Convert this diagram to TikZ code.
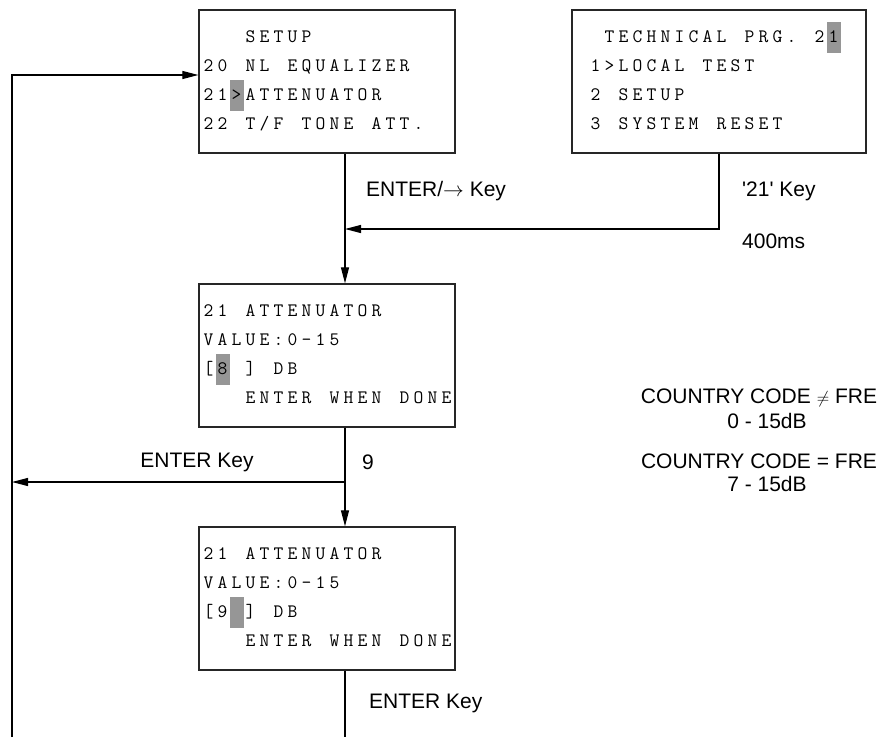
\documentclass[tikz,border=0pt]{standalone}
\usepackage{fontspec}
\setmainfont{Liberation Sans}
\usetikzlibrary{arrows.meta,calc}
\definecolor{hlgray}{RGB}{150,150,150}

% one fixed cell per character, like the display
\ExplSyntaxOn
\NewDocumentCommand\lcd{m}{
  \tl_set:No \l_tmpa_tl {#1}
  \tl_replace_all:Nnn \l_tmpa_tl {~} {{}}
  \tl_map_inline:Nn \l_tmpa_tl {\makebox[14pt]{##1}}
}
\ExplSyntaxOff
\newcommand\lcdhl[1]{\rlap{\color{hlgray}\rule[-10pt]{14pt}{31pt}}\makebox[14pt]{#1}}
\newcommand\smallneq{{\fontsize{16}{16}\selectfont$\neq$}}

\tikzset{
  screen/.style={draw=black!85, line width=1.3pt, minimum height=143pt, inner sep=0pt},
  lcdline/.style={anchor=base west, inner sep=0pt, font=\ttfamily\fontsize{19}{20}\selectfont},
  keylabel/.style={font=\fontsize{21}{25}\selectfont, inner sep=0pt},
  flow/.style={line width=1.2pt, -{Triangle[length=16pt,width=8pt]}},
  wire/.style={line width=1.2pt}
}

\begin{document}
\begin{tikzpicture}[x=1pt,y=-1pt]
\useasboundingbox (0,0) rectangle (884,737);

% screens
\node[screen, minimum width=256pt] (setup) at (327,81.5) {};
\node[screen, minimum width=294pt] (tech) at (719,81.5) {};
\node[screen, minimum width=256pt] (attn8) at (327,355.5) {};
\node[screen, minimum width=256pt] (attn9) at (327,598.5) {};

\foreach \lline [count=\i from 0] in {~~~SETUP, 20 NL EQUALIZER, 21{\lcdhl{>}}ATTENUATOR, 22 T/F TONE ATT.}
  \node[lcdline] at ([shift={(3,33.5+29*\i)}]setup.north west) {\lcd{\lline}};
\foreach \lline [count=\i from 0] in {~~TECHNICAL PRG. 2{\lcdhl{1}}, ~1>LOCAL TEST, ~2 SETUP, ~3 SYSTEM RESET}
  \node[lcdline] at ([shift={(3,33.5+29*\i)}]tech.north west) {\lcd{\lline}};
\foreach \lline [count=\i from 0] in {21 ATTENUATOR, VALUE:0-15, [{\lcdhl{8}} ] DB, ~~~ENTER WHEN DONE}
  \node[lcdline] at ([shift={(3,33.5+29*\i)}]attn8.north west) {\lcd{\lline}};
\foreach \lline [count=\i from 0] in {21 ATTENUATOR, VALUE:0-15, [9{\lcdhl{~}}] DB, ~~~ENTER WHEN DONE}
  \node[lcdline] at ([shift={(3,33.5+29*\i)}]attn9.north west) {\lcd{\lline}};

% connectors
\coordinate (spine) at (345,0);
\coordinate (merge) at (345,229);
\coordinate (back) at (12,482);
\coordinate (loopend) at (12,737);
\coordinate (exit) at (345,737);

\draw[flow] (setup.south -| spine) -- (attn8.north -| spine);
\draw[flow] (tech.south) |- (merge);
\draw[flow] (attn8.south -| spine) -- (attn9.north -| spine);
\draw[flow] (spine |- back) -- (back);
\draw[wire] (attn9.south -| spine) -- (exit);
\draw[flow] (loopend) |- ([yshift=6.5pt]setup.west);

% key labels
\node[keylabel, anchor=west] (enterkey) at (366,191) {ENTER/$\rightarrow$ Key};
\node[keylabel, anchor=west] (key21) at (742,191) {\textquotesingle21\textquotesingle{} Key};
\node[keylabel, anchor=west] (delay) at (742,241) {400ms};
\node[keylabel, anchor=west] (nine) at (362,462) {9};
\node[keylabel] (enterback) at (197,462) {ENTER Key};
\node[keylabel, anchor=west] (enterdone) at (369,703) {ENTER Key};
\node[keylabel] (neqline) at (759,398) {COUNTRY CODE \smallneq{} FRE};
\node[keylabel] (neqrange) at (767,421) {0 - 15dB};
\node[keylabel] (eqline) at (759,461) {COUNTRY CODE = FRE};
\node[keylabel] (eqrange) at (767,484) {7 - 15dB};
\end{tikzpicture}
\end{document}
